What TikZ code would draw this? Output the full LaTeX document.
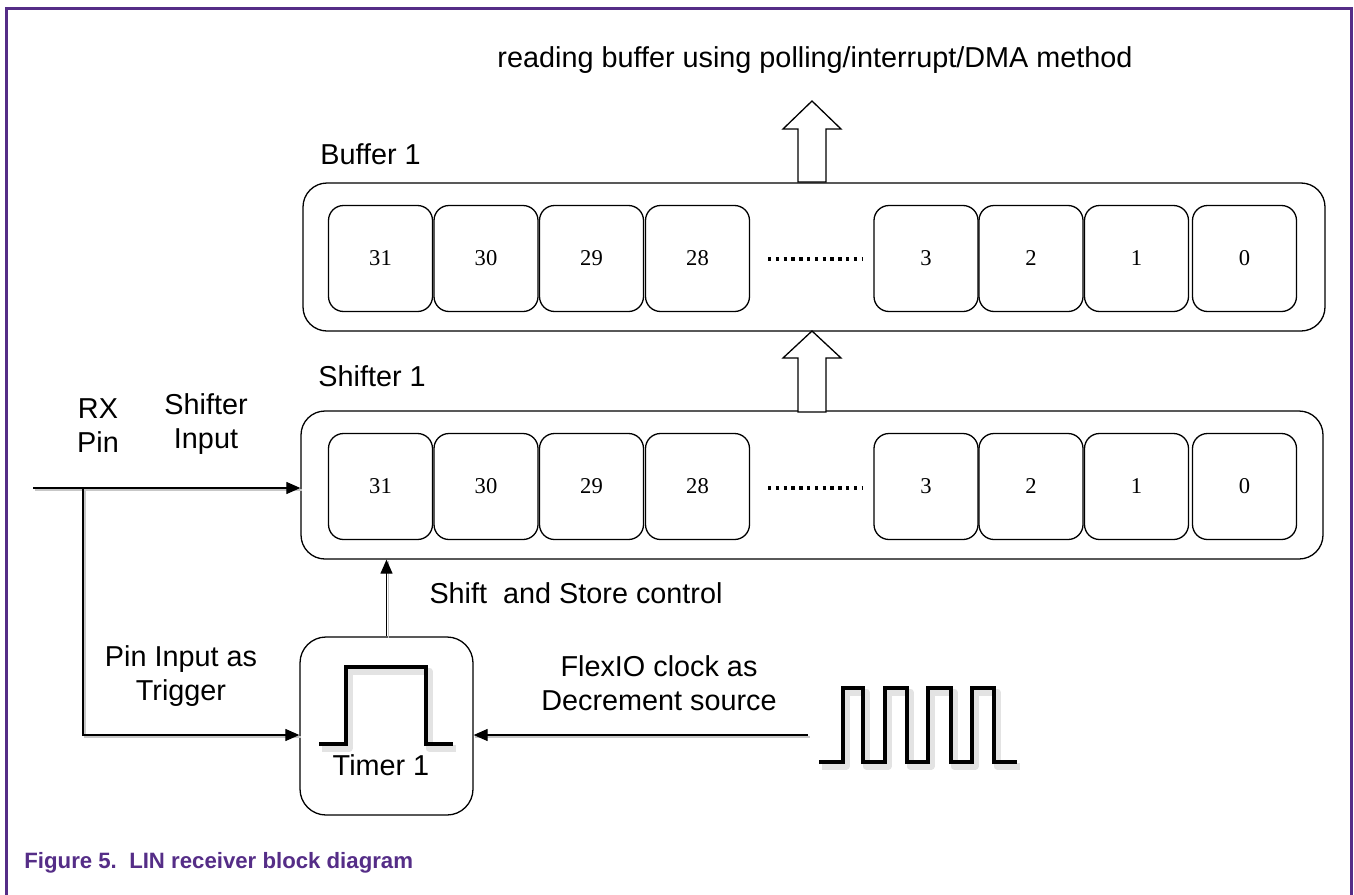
\documentclass[tikz,border=0pt]{standalone}
\usepackage{fontspec}
\setmainfont{Liberation Sans}
\newfontfamily\numfont{Liberation Serif}
\usetikzlibrary{arrows.meta,calc}
\definecolor{nxppurple}{RGB}{85,45,135}
\begin{document}
\begin{tikzpicture}[x=0.5pt,y=-0.5pt,
  lbl/.style={font=\fontsize{14.4}{17}\selectfont, inner sep=0pt, anchor=base},
  outer/.style={draw, line width=0.65pt, rounded corners=12pt, minimum width=511pt, minimum height=74pt, inner sep=0pt, fill=white},
  cell/.style={draw, line width=0.65pt, rounded corners=7.5pt, minimum width=52pt, minimum height=53pt, inner sep=0pt, fill=white, font=\numfont\fontsize{11.3}{13}\selectfont},
  timerbox/.style={draw, line width=0.65pt, rounded corners=13pt, minimum width=86.5pt, minimum height=89pt, inner sep=0pt, fill=white},
  conn/.style={line width=0.6pt, -{Triangle[length=7pt,width=6pt]}},
  connsh/.style={line width=0.8pt, black!22, transform canvas={xshift=0.9pt,yshift=-0.9pt}},
  hollow/.style={draw, line width=0.65pt, fill=white, line join=miter},
  wave/.style={line width=1.7pt, line join=miter},
  waveshadow/.style={line width=3.5pt, black!11, line join=round, transform canvas={xshift=1.5pt,yshift=-2pt}},
  dotline/.style={line width=1.7pt, dash pattern=on 1.7pt off 2.2pt},
  caption/.style={font=\bfseries\fontsize{11.1}{13}\selectfont, text=nxppurple, inner sep=0pt, anchor=base west},
]
\useasboundingbox (0,0) rectangle (1354,894);
% frame
\draw[nxppurple, line width=1.6pt] (6.5,900) -- (6.5,8.5) -- (1351.5,8.5) -- (1351.5,900);

% outer boxes
\node[outer] (buf) at (814,257) {};
\node[outer] (shf) at (812,485) {};
\foreach \n/\x in {31/380.5,30/486,29/591.5,28/697.5,3/926,2/1031,1/1136.5,0/1244.5}{
  \node[cell] (b\n) at (\x,258.5) {\n};
  \node[cell] (s\n) at (\x,486.5) {\n};
}
\draw[dotline] (768,259) -- (862,259);
\draw[dotline] (768,488) -- (862,488);

% hollow arrows
\coordinate (up1) at (812,182);
\draw[hollow, shift={(up1)}] (-14,0) -- (-14,-53) -- (-29,-53) -- (0,-81) -- (29,-53) -- (14,-53) -- (14,0) -- cycle;
\coordinate (up2) at (812,412);
\draw[hollow, shift={(up2)}] (-14,0) -- (-14,-54) -- (-29,-54) -- (0,-81) -- (29,-54) -- (14,-54) -- (14,0) -- cycle;

% timer
\node[timerbox] (tim) at (386.5,726) {};
\draw[waveshadow] (319,744) -- (346,744) -- (346,667) -- (426,667) -- (426,744) -- (453,744);
\draw[wave] (319,744) -- (346,744) -- (346,667) -- (426,667) -- (426,744) -- (453,744);
\node[lbl] (timlbl) at (381,775) {Timer 1};

% clock waveform
\draw[waveshadow] (819,762) -- (843,762) -- (843,688) -- (863,688) -- (863,762) -- (885,762) -- (885,688) -- (907,688) -- (907,762) -- (928,762) -- (928,688) -- (951,688) -- (951,762) -- (972,762) -- (972,688) -- (994,688) -- (994,762) -- (1017,762);
\draw[wave] (819,762) -- (843,762) -- (843,688) -- (863,688) -- (863,762) -- (885,762) -- (885,688) -- (907,688) -- (907,762) -- (928,762) -- (928,688) -- (951,688) -- (951,762) -- (972,762) -- (972,688) -- (994,688) -- (994,762) -- (1017,762);

% connectors
\coordinate (rxin) at (33,488);
\coordinate (br) at (83,488);
\coordinate (clk) at (808,735);
\draw[connsh] (rxin) -- (rxin -| shf.west);
\draw[conn] (rxin) -- (rxin -| shf.west);
\draw[connsh] (br) |- (tim.west |- clk);
\draw[conn] (br) |- (tim.west |- clk);
\draw[connsh] (clk) -- (clk -| tim.east);
\draw[conn] (clk) -- (clk -| tim.east);
\draw[connsh] (tim.north) -- (tim.north |- shf.south);
\draw[conn] (tim.north) -- (tim.north |- shf.south);

% labels
\node[lbl] (title) at (815,67) {reading buffer using polling/interrupt/DMA method};
\node[lbl, anchor=base west] (buflbl) at (320,164) {Buffer 1};
\node[lbl, anchor=base west] (shflbl) at (318,386) {Shifter 1};
\node[lbl] (rx) at (98,418) {RX};
\node[lbl] (pin) at (98,452) {Pin};
\node[lbl] (si1) at (206,414) {Shifter};
\node[lbl] (si2) at (206,448) {Input};
\node[lbl] (ssc) at (576,603) {Shift\ \ and Store control};
\node[lbl] (pia) at (181,666) {Pin Input as};
\node[lbl] (trg) at (181,700) {Trigger};
\node[lbl] (fx1) at (659,676) {FlexIO clock as};
\node[lbl] (fx2) at (659,710) {Decrement source};

% caption
\node[caption] (cap) at (24,868.5) {Figure 5.\ \ LIN receiver block diagram};
\end{tikzpicture}
\end{document}
